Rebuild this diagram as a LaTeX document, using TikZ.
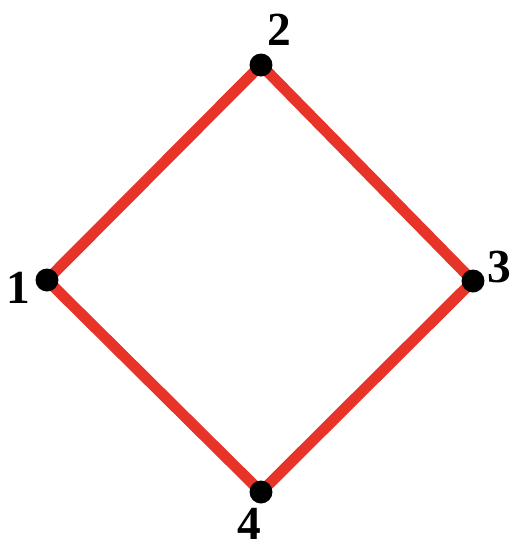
\documentclass[tikz,border=0pt]{standalone}
\usepackage{fontspec}
\setmainfont{Liberation Serif}
\usepackage{tikz}
\usetikzlibrary{backgrounds}
\definecolor{edgered}{RGB}{232,52,40}

\begin{document}
\begin{tikzpicture}[x=0.02cm,y=-0.02cm,
    vert/.style={circle,fill=black,inner sep=0pt,minimum size=0.46cm},
    lab/.style={font=\fontsize{27}{27}\selectfont\bfseries,inner sep=0pt},
    edge/.style={edgered,line width=6.2pt}]
      \useasboundingbox (0,0) rectangle (510,549);
      \node[vert] (v1) at (47,280) {};
      \node[vert] (v2) at (261,65) {};
      \node[vert] (v3) at (473,281) {};
      \node[vert] (v4) at (261,492) {};
      \begin{scope}[on background layer]
      \draw[edge] (v1.center) -- (v2.center) -- (v3.center) -- (v4.center) -- cycle;
      \end{scope}
      \node[lab] (l1) at (18,288) {1};
      \node[lab] (l2) at (279,30) {2};
      \node[lab] (l3) at (499,267) {3};
      \node[lab] (l4) at (249,524) {4};
    \end{tikzpicture}
\end{document}
